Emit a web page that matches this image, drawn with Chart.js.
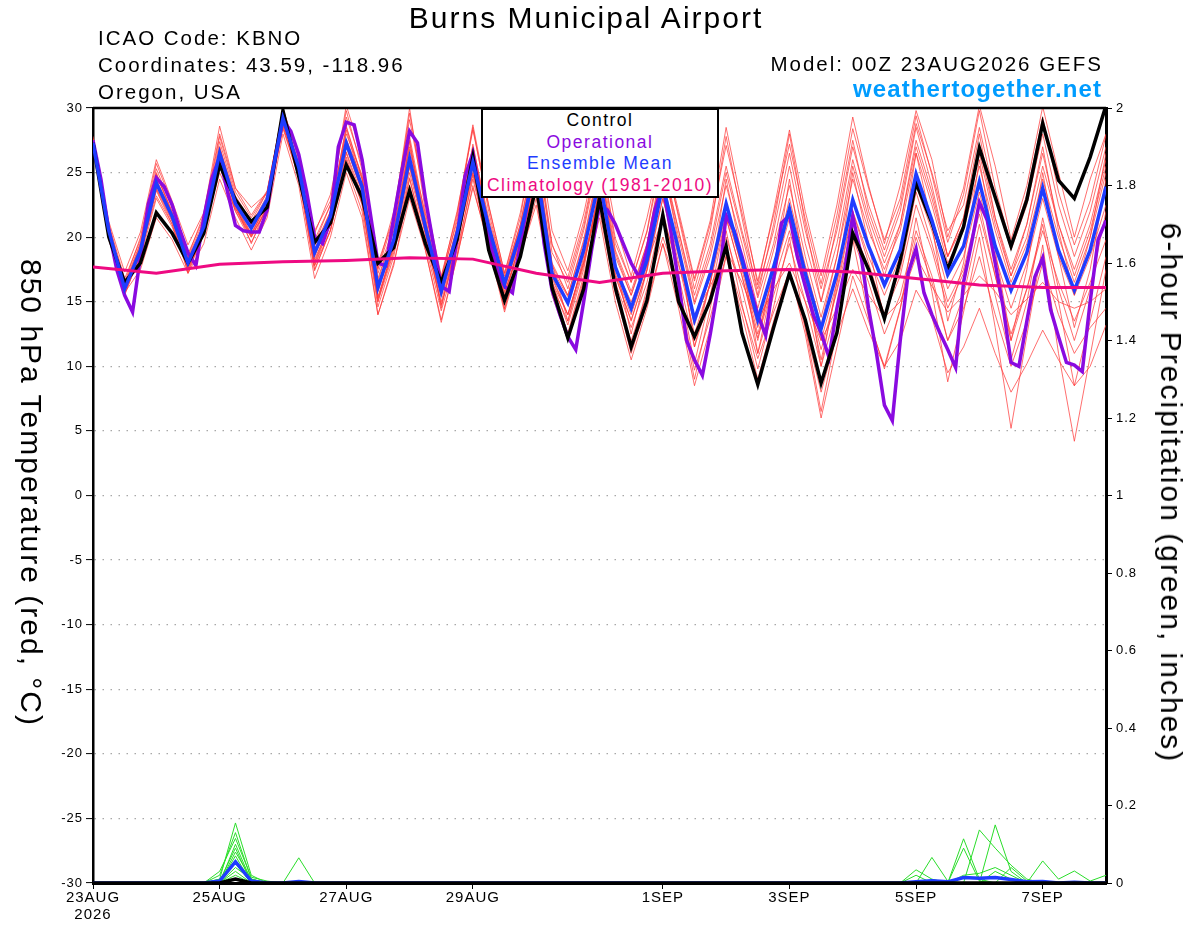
<!DOCTYPE html>
<html>
<head>
<meta charset="utf-8">
<script src="https://cdn.jsdelivr.net/npm/chart.js@4.4.1/dist/chart.umd.min.js"></script>
<style>
  body { margin: 0; background: #fff; }
  #wrap { position: relative; width: 1200px; height: 927px; font-family: "Liberation Sans", Arial, sans-serif; overflow: hidden; }
  #c { position: absolute; left: 0; top: 0; }
  .t { position: absolute; white-space: nowrap; line-height: 1; color: #000; z-index: 2; }
  #title { font-size: 30px; letter-spacing: 2px; top: 2.6px; left: 586px; transform: translateX(-50%); }
  .info { font-size: 20.5px; letter-spacing: 2px; left: 98px; }
  #model { font-size: 20.5px; letter-spacing: 2px; right: 97px; top: 53.6px; }
  #site { font-size: 24px; font-weight: bold; letter-spacing: 1.1px; right: 98px; top: 77px; color: #009cff; }
  #legend { position: absolute; left: 481px; top: 108px; width: 238px; height: 90px; box-sizing: border-box;
            border: 2px solid #000; background: #fff; z-index: 2; text-align: center; }
  #legend div { font-size: 17.5px; letter-spacing: 1.5px; line-height: 21.7px; height: 21.7px; white-space: nowrap; }
  .ytitle { position: absolute; white-space: nowrap; line-height: 1; font-size: 30px; letter-spacing: 2px; z-index: 2;
            transform: translate(-50%, -50%) rotate(90deg); }
</style>
</head>
<body>
<div id="wrap">
  <canvas id="c" width="1200" height="927"></canvas>
  <div class="t" id="title">Burns Municipal Airport</div>
  <div class="t info" style="top:28.3px">ICAO Code: KBNO</div>
  <div class="t info" style="top:55px">Coordinates: 43.59, -118.96</div>
  <div class="t info" style="top:81.6px">Oregon, USA</div>
  <div class="t" id="model">Model: 00Z 23AUG2026 GEFS</div>
  <div class="t" id="site">weathertogether.net</div>
  <div id="legend">
    <div style="color:#000">Control</div>
    <div style="color:#8a0ae0">Operational</div>
    <div style="color:#1f3cff">Ensemble Mean</div>
    <div style="color:#ee0a82">Climatology (1981-2010)</div>
  </div>
  <div class="ytitle" style="left:31px; top:493px">850 hPa Temperature (red, °C)</div>
  <div class="ytitle" style="left:1171px; top:493px">6-hour Precipitation (green, inches)</div>
</div>
<script>
// ---------- time axis (forecast hours) ----------
const hours = [0,6,12,18,24,30,36,42,48,54,60,66,72,78,84,90,96,102,108,114,120,126,132,138,144,150,156,162,168,174,180,186,192,198,204,210,216,222,228,234,240,246,252,258,264,270,276,282,288,294,300,306,312,318,324,330,336,342,348,354,360,366,372,378,384];
const tickHours = [0,48,96,144,216,264,312,360];
const tickLabels = [['23AUG','2026'],'25AUG','27AUG','29AUG','1SEP','3SEP','5SEP','7SEP'];

// ---------- 850 hPa temperature (°C) ----------
const controlTemp = [27.3,20.0,16.5,18.0, 21.9,20.3,18.0,20.3, 25.6,22.9,21.2,22.3, 29.8,24.7,19.6,21.1, 25.6,23.1,18.0,19.2, 23.6,19.5,16.5,19.8, 26.2,19.0,15.1,18.5, 24.0,16.1,12.2,16.0, 23.0,16.1,11.5,15.1, 21.7,15.0,12.3,15.1, 19.3,12.6,8.6,13.0, 17.2,13.6,8.7,12.6, 20.3,17.5,13.7,18.2, 24.2,21.1,17.5,20.8, 26.9,23.1,19.3,22.9, 28.8,24.4,23.0,26.2, 30.2];
const meanTemp = [27.3,20.5,16.0,19.0, 24.2,21.6,18.0,20.8, 26.5,22.6,20.7,22.9, 29.2,25.4,18.8,21.6, 27.3,23.9,16.1,19.8, 26.1,20.8,15.8,20.3, 25.8,20.8,16.4,20.3, 25.5,17.2,14.9,19.0, 24.5,17.7,14.5,18.2, 24.0,19.0,13.6,17.2, 22.6,18.2,13.6,17.7, 22.2,17.2,12.9,17.2, 22.9,19.3,16.3,19.0, 24.9,21.3,17.1,19.3, 24.3,19.3,15.9,18.8, 23.8,19.0,15.9,19.0, 23.9];

// Operational run (3-hourly)
const opHours = [0,3,6,9,12,15,18,21,24,27,30,33,36,39,42,45,48,51,54,57,60,63,66,69,72,75,78,81,84,87,90,93,96,99,102,105,108,111,114,117,120,123,126,129,132,135,138,141,144,147,150,153,156,159,162,165,168,171,174,177,180,183,186,189,192,195,198,201,204,207,210,213,216,219,222,225,228,231,234,237,240,243,246,249,252,255,258,261,264,267,270,273,276,279,282,285,288,291,294,297,300,303,306,309,312,315,318,321,324,327,330,333,336,339,342,345,348,351,354,357,360,363,366,369,372,375,378,381,384];
const opTemp = [27.5,24.5,20.5,17.5,15.5,14.2,18.5,22.6,24.6,23.9,22.5,20.5,18.8,17.8,21.5,24.5,26.2,23.5,20.9,20.5,20.4,20.4,22.1,26.0,29.1,28.2,26.4,23.5,20.0,19.5,21.3,27.0,28.9,28.7,26.0,22.0,18.0,17.8,21.5,25.0,28.2,27.3,23.0,19.5,16.2,15.8,20.0,24.7,26.5,23.0,20.0,17.5,16.2,15.7,19.5,23.0,25.5,19.5,15.9,14.0,12.3,11.3,15.0,19.0,22.5,22.1,21.0,19.5,18.0,16.9,19.0,22.1,24.0,20.5,16.5,12.0,10.5,9.3,12.5,16.2,21.7,20.5,18.5,16.2,14.0,12.4,16.7,21.1,21.7,18.5,16.2,14.0,12.6,10.7,14.5,17.5,21.6,18.8,14.5,11.0,7.0,5.8,12.0,17.2,19.1,15.7,14.0,12.6,11.3,9.9,16.5,19.5,22.7,21.3,18.0,14.6,10.3,10.0,13.5,16.9,18.4,14.4,12.3,10.3,10.1,9.6,15.0,19.8,21.3];

// Climatology (daily)
const climHours = [0,24,48,72,96,120,144,168,192,216,240,264,288,312,336,360,384];
const climTemp = [17.7,17.2,17.9,18.1,18.2,18.4,18.3,17.2,16.5,17.2,17.4,17.5,17.3,16.8,16.3,16.1,16.1];

// Ensemble members
const mem01 = [27.6,20.9,16.5,20.0, 25.7,22.6,18.5,21.8, 28.0,23.8,21.7,23.6, 29.7,26.4,20.3,23.3, 29.3,25.6,17.6,22.0, 29.1,22.8,16.8,22.0, 28.3,22.4,17.2,21.9, 28.0,19.4,16.9,21.2, 27.0,19.9,16.5,20.4, 26.5,21.7,16.6,21.0, 27.1,21.9,16.6,21.7, 27.2,21.4,16.4,21.7, 28.4,23.8,19.8,23.0, 29.4,24.8,19.6,23.3, 29.8,23.8,19.4,23.3, 29.3,23.5,19.4,22.8, 27.9];
const mem02 = [27.2,20.0,15.6,18.6, 23.6,21.0,17.5,20.2, 25.6,22.0,19.6,22.0, 28.6,24.6,17.8,20.5, 26.2,22.6,14.6,18.5, 24.6,19.4,14.3,18.6, 24.8,19.5,14.4,18.8, 23.5,16.0,12.4,16.7, 22.0,15.8,11.0,14.9, 19.5,15.8,9.7,13.8, 18.6,14.6,10.6,14.2, 17.3,13.0,8.0,12.5, 16.0,12.7,10.0,12.0, 15.9,13.8,9.5,11.5, 14.5,11.0,8.0,10.2, 12.8,10.5,8.5,10.0, 13.2];
const mem03 = [27.5,20.3,16.2,19.2, 24.8,21.9,18.3,20.9, 26.2,22.3,20.2,22.6, 28.8,24.9,18.1,21.2, 27.6,24.5,15.4,19.2, 27.4,20.2,14.7,19.3, 26.8,20.6,15.5,19.6, 24.5,16.2,13.5,17.8, 23.6,15.6,12.0,15.6, 21.5,15.5,9.0,14.5, 20.5,14.8,9.8,14.6, 20.0,13.0,6.5,12.8, 19.8,13.8,9.8,14.4, 21.5,15.8,8.8,14.2, 20.0,13.0,5.2,12.4, 19.4,11.0,4.2,10.8, 17.5];
const mem04 = [27.4,21.0,16.8,19.8, 25.3,22.3,18.7,21.5, 27.8,23.5,21.5,23.5, 29.9,26.2,19.8,22.5, 29.8,25.2,17.5,21.4, 29.6,23.0,17.0,21.8, 28.7,22.5,17.2,21.5, 28.8,20.5,17.4,21.8, 27.5,21.0,17.0,21.5, 27.0,22.0,16.8,21.3, 28.5,22.5,16.3,22.0, 28.3,22.0,17.0,22.5, 29.3,24.0,19.5,24.0, 29.8,26.0,20.0,23.8, 30.2,25.5,19.8,24.0, 30.1,25.0,20.0,24.5, 28.0];
const mem05 = [27.0,20.2,15.8,18.7, 23.7,21.2,17.6,20.4, 26.0,22.2,20.0,22.4, 28.9,25.0,18.3,21.0, 26.6,23.2,15.3,19.3, 25.4,20.3,15.0,19.6, 25.0,20.2,15.7,19.5, 24.8,17.0,14.0,18.2, 23.6,17.0,13.6,17.4, 23.0,18.0,12.5,16.5, 21.5,17.0,12.2,16.5, 20.5,16.0,11.3,15.8, 21.0,17.5,14.0,17.0, 22.5,19.0,14.5,17.2, 21.8,17.0,12.5,16.0, 20.5,16.5,13.5,16.5, 19.8];
const mem06 = [27.3,20.6,16.3,19.3, 24.0,21.4,17.8,20.5, 26.8,22.8,20.6,22.5, 28.4,24.6,17.4,20.6, 25.5,22.0,14.0,17.8, 24.0,19.0,13.6,18.4, 24.0,19.2,14.2,18.6, 22.5,16.0,12.6,17.0, 22.5,16.0,11.5,16.0, 20.0,16.5,10.2,15.5, 21.5,17.0,12.0,17.5, 23.0,17.8,13.2,18.5, 25.5,21.0,17.0,21.0, 27.5,23.5,18.5,21.5, 27.0,21.5,17.5,21.0, 26.5,21.0,17.0,20.5, 25.5];
const mem07 = [27.8,21.2,17.3,20.4, 26.0,22.8,19.4,21.9, 28.6,23.8,22.3,23.4, 30.0,26.0,20.5,22.8, 30.2,26.3,18.0,21.5, 30.0,22.0,16.5,21.5, 28.5,22.0,16.8,21.0, 27.0,19.5,16.0,20.5, 26.5,19.0,15.8,19.5, 25.5,20.5,15.0,19.0, 25.0,20.2,15.3,19.5, 25.5,19.5,15.0,19.5, 26.0,21.5,18.0,21.0, 27.0,23.0,18.5,21.0, 26.5,21.0,17.0,20.0, 25.5,21.0,17.5,21.0, 26.0];
const mem08 = [27.1,20.4,16.1,18.8, 23.2,21.0,17.3,20.5, 25.0,22.2,20.1,22.2, 29.0,25.2,18.5,21.5, 27.0,23.5,16.0,19.6, 25.5,20.5,15.5,20.0, 25.4,20.0,16.0,20.0, 24.0,17.5,15.4,18.6, 22.5,17.6,15.0,18.0, 21.5,17.8,14.0,16.2, 19.0,16.5,13.5,16.0, 18.0,15.0,12.0,14.5, 17.5,15.5,13.8,15.0, 18.5,16.2,14.2,15.5, 17.0,15.8,14.0,15.2, 16.5,15.0,14.5,15.0, 16.0];
const mem09 = [27.5,20.7,15.5,18.8, 25.0,21.8,17.2,20.3, 27.0,22.5,19.5,22.5, 29.5,25.5,17.8,21.0, 28.3,24.0,15.0,19.5, 27.5,21.0,14.5,19.8, 27.2,21.0,15.2,19.8, 26.8,18.0,13.5,18.5, 26.0,18.0,12.5,17.5, 25.8,19.5,11.5,16.5, 24.5,18.5,11.0,16.8, 24.5,17.0,10.0,16.5, 25.0,19.5,13.5,18.5, 26.5,21.0,13.5,18.0, 26.0,19.0,12.0,17.5, 25.0,18.5,13.0,17.5, 24.5];
const mem10 = [27.0,19.8,15.7,17.5, 21.5,19.8,17.2,19.5, 24.5,21.5,19.0,21.5, 28.0,24.0,16.8,20.0, 25.0,21.5,14.0,18.0, 23.0,19.0,13.4,18.5, 23.8,19.5,14.5,18.8, 24.5,16.5,13.2,17.5, 24.0,17.0,13.5,17.5, 24.5,19.0,12.0,16.5, 22.5,17.5,12.5,17.0, 22.0,16.5,10.5,16.0, 22.0,18.0,14.0,17.5, 23.5,19.5,15.0,17.5, 22.5,17.0,12.0,16.0, 21.0,15.0,8.5,13.5, 18.5];
const mem11 = [27.2,20.8,16.2,19.5, 24.5,21.8,18.3,21.0, 27.0,23.0,21.0,23.2, 29.4,25.8,19.5,22.5, 28.0,24.8,17.2,20.8, 27.0,21.8,16.8,21.2, 27.0,21.5,17.0,21.0, 27.5,18.8,16.5,20.8, 27.0,19.5,16.5,20.5, 27.2,21.5,16.0,20.5, 27.8,21.5,15.5,21.0, 28.0,21.0,15.0,21.0, 27.5,22.0,18.5,22.0, 28.5,24.0,18.5,21.5, 28.0,21.5,17.0,21.0, 27.0,20.5,15.5,20.0, 26.5];
const mem12 = [27.3,20.4,15.9,19.0, 24.0,21.5,17.8,20.6, 26.3,22.5,20.3,22.7, 29.0,25.0,18.0,21.0, 26.5,22.8,15.0,18.8, 24.5,19.8,14.8,19.0, 24.5,19.5,15.0,18.5, 23.0,15.5,12.0,16.5, 21.5,15.0,10.5,14.5, 19.5,14.5,8.5,13.0, 18.5,14.0,9.0,13.5, 17.5,12.5,6.0,11.5, 17.0,13.5,10.0,14.5, 20.0,16.5,12.0,15.5, 21.0,15.5,10.5,15.0, 21.5,16.0,12.0,16.0, 22.0];
const mem13 = [27.4,20.6,16.0,19.2, 24.4,21.7,18.1,21.0, 26.7,22.8,21.0,23.0, 29.3,25.6,19.3,22.0, 28.5,24.5,16.8,20.5, 26.8,21.3,16.3,20.8, 26.5,21.0,16.6,20.6, 25.8,17.8,15.5,19.6, 25.5,18.5,15.5,19.5, 26.0,20.5,15.5,19.5, 25.5,20.5,16.0,20.5, 26.5,20.5,16.0,20.5, 27.0,22.5,19.0,22.5, 28.8,25.0,20.5,22.5, 28.5,23.0,19.0,22.5, 28.0,22.5,18.5,22.0, 27.0];
const mem14 = [27.2,20.3,16.0,18.9, 23.8,21.3,17.9,20.6, 26.0,22.4,20.2,22.6, 29.1,25.2,18.6,21.3, 27.0,23.5,15.8,19.5, 25.7,20.5,15.5,19.8, 25.5,20.5,16.0,19.8, 25.0,16.8,14.0,18.0, 23.0,16.5,13.0,16.5, 22.0,17.0,11.5,15.5, 20.0,16.0,11.0,15.5, 19.5,15.0,10.0,14.5, 20.0,16.5,12.5,15.5, 20.5,17.0,12.0,14.5, 18.5,14.0,10.0,13.5, 18.0,14.0,11.0,13.0, 14.5];
const mem15 = [27.6,20.5,16.4,19.6, 24.9,22.0,18.4,21.3, 27.4,23.2,21.2,23.5, 29.6,25.6,19.0,22.0, 28.6,24.6,16.6,20.5, 27.8,21.5,16.0,20.8, 26.8,21.2,16.7,20.8, 26.5,18.0,15.5,19.8, 25.8,18.8,15.5,19.0, 25.5,20.0,14.8,18.5, 24.0,19.5,14.5,19.0, 24.0,18.5,13.8,18.5, 24.5,20.5,17.5,20.5, 26.5,22.5,18.0,20.5, 25.5,20.5,16.5,19.5, 24.5,20.0,16.5,20.0, 25.0];
const mem16 = [27.1,20.1,15.8,18.4, 23.0,20.8,17.6,20.2, 25.5,22.0,20.0,22.2, 28.6,24.8,17.5,20.5, 26.0,22.5,15.2,19.0, 25.0,20.2,15.4,19.6, 25.0,20.0,15.8,19.0, 24.2,16.5,14.0,18.0, 23.5,17.2,14.0,17.8, 23.0,18.5,13.2,17.0, 21.8,17.8,13.0,17.0, 21.5,16.8,12.0,16.5, 22.0,18.5,15.5,18.5, 24.0,20.5,16.0,18.5, 23.5,18.5,14.5,18.0, 23.0,18.5,15.5,18.5, 22.5];

// ---------- 6-hour precipitation (inches) ----------
const pcp01 = [0,0,0,0,0,0,0,0,0.01,0.155,0.02,0,0,0,0,0, 0,0,0,0,0,0,0,0,0,0,0,0,0,0,0,0, 0,0,0,0,0,0,0,0,0,0,0,0,0,0,0,0, 0,0,0,0,0,0,0,0,0,0.15,0.03,0,0,0,0,0, 0];
const pcp02 = [0,0,0,0,0,0,0,0,0.02,0.13,0.01,0,0,0,0,0, 0,0,0,0,0,0,0,0,0,0,0,0,0,0,0,0, 0,0,0,0,0,0,0,0,0,0,0,0,0,0,0,0, 0,0,0,0,0,0,0,0,0.137,0.09,0.046,0.01,0,0,0,0, 0];
const pcp03 = [0,0,0,0,0,0,0,0,0.03,0.115,0.015,0.005,0,0,0,0, 0,0,0,0,0,0,0,0,0,0,0,0,0,0,0,0, 0,0,0,0,0,0,0,0,0,0,0,0,0,0,0,0, 0,0,0,0,0,0,0,0.114,0.01,0,0,0,0,0,0,0, 0];
const pcp04 = [0,0,0,0,0,0,0,0,0,0.10,0.005,0,0,0,0,0, 0,0,0,0,0,0,0,0,0,0,0,0,0,0,0,0, 0,0,0,0,0,0,0,0,0,0,0,0,0,0,0,0, 0,0,0,0,0.034,0.01,0,0,0,0,0,0,0,0,0,0, 0];
const pcp05 = [0,0,0,0,0,0,0,0,0.005,0.09,0,0,0,0,0,0, 0,0,0,0,0,0,0,0,0,0,0,0,0,0,0,0, 0,0,0,0,0,0,0,0,0,0,0,0,0,0,0,0, 0,0,0,0,0,0.066,0.005,0,0,0,0,0,0,0,0,0, 0];
const pcp06 = [0,0,0,0,0,0,0,0,0,0.08,0.01,0,0,0,0,0, 0,0,0,0,0,0,0,0,0,0,0,0,0,0,0,0, 0,0,0,0,0,0,0,0,0,0,0,0,0,0,0,0, 0,0,0,0,0,0,0,0.02,0.025,0.04,0.02,0,0,0,0,0, 0];
const pcp07 = [0,0,0,0,0,0,0,0,0,0.07,0,0,0,0,0,0, 0,0,0,0,0,0,0,0,0,0,0,0,0,0,0,0, 0,0,0,0,0,0,0,0,0,0,0,0,0,0,0,0, 0,0,0,0,0,0,0,0,0,0,0,0,0.057,0.01,0.031,0.005, 0.02];
const pcp08 = [0,0,0,0,0,0,0,0,0.01,0.05,0,0,0,0,0,0, 0,0,0,0,0,0,0,0,0,0,0,0,0,0,0,0, 0,0,0,0,0,0,0,0,0,0,0,0,0,0,0,0, 0,0,0,0,0,0,0,0.09,0.005,0,0,0,0,0,0,0, 0];
const pcp09 = [0,0,0,0,0,0,0,0,0,0.03,0,0,0,0,0,0, 0,0,0,0,0,0,0,0,0,0,0,0,0,0,0,0, 0,0,0,0,0,0,0,0,0,0,0,0,0,0,0,0, 0,0,0,0,0,0,0,0,0,0.03,0.01,0,0,0,0,0, 0];
const pcp10 = [0,0,0,0,0,0,0,0,0,0.02,0,0,0,0.065,0,0, 0,0,0,0,0,0,0,0,0,0,0,0,0,0,0,0, 0,0,0,0,0,0,0,0,0,0,0,0,0,0,0,0, 0,0,0,0,0.02,0,0,0,0,0,0,0,0,0,0,0, 0];
const pcp11 = [0,0,0,0,0,0,0,0,0,0.04,0.01,0,0,0,0,0, 0,0,0,0,0,0,0,0,0,0,0,0,0,0,0,0, 0,0,0,0,0,0,0,0,0,0,0,0,0,0,0,0, 0,0,0,0,0,0,0,0,0,0,0.04,0.005,0,0,0,0, 0];
const pcpMean = [0,0,0,0,0,0,0,0,0.005,0.055,0.005,0,0,0.004,0,0, 0,0,0,0,0,0,0,0,0,0,0,0,0,0,0,0, 0,0,0,0,0,0,0,0,0,0,0,0,0,0,0,0, 0,0,0,0,0.003,0.006,0.003,0.014,0.012,0.014,0.009,0.003,0.004,0,0.002,0, 0];
const pcpControl = [0,0,0,0,0,0,0,0,0,0.01,0,0,0,0,0,0, 0,0,0,0,0,0,0,0,0,0,0,0,0,0,0,0, 0,0,0,0,0,0,0,0,0,0,0,0,0,0,0,0, 0,0,0,0,0,0,0,0,0,0,0,0,0,0,0,0, 0];

// ---------- build datasets ----------
const FONT = '"Liberation Sans", Arial, sans-serif';
Chart.defaults.font.family = FONT;
const pts = (xs, ys) => xs.map((x, i) => ({ x: x, y: ys[i] }));
const members = [mem01, mem02, mem03, mem04, mem05, mem06, mem07, mem08, mem09, mem10, mem11, mem12, mem13, mem14, mem15, mem16];
const pcpMembers = [pcp01, pcp02, pcp03, pcp04, pcp05, pcp06, pcp07, pcp08, pcp09, pcp10, pcp11];

const datasets = [];
members.forEach(m => datasets.push({ data: pts(hours, m), borderColor: 'rgba(255,55,55,0.72)', borderWidth: 1, yAxisID: 'y', order: 20 }));
pcpMembers.forEach(p => datasets.push({ data: pts(hours, p), borderColor: '#2add2a', borderWidth: 1, yAxisID: 'y2', order: 15 }));
datasets.push({ data: pts(hours, pcpMean), borderColor: '#1f3cff', borderWidth: 3.5, yAxisID: 'y2', order: 12 });
datasets.push({ data: pts(hours, pcpControl), borderColor: '#000', borderWidth: 3.5, yAxisID: 'y2', order: 11 });
datasets.push({ data: pts(opHours, opTemp), borderColor: '#8a0ae0', borderWidth: 3.5, yAxisID: 'y', order: 4 });
datasets.push({ data: pts(hours, controlTemp), borderColor: '#000', borderWidth: 3.5, yAxisID: 'y', order: 3 });
datasets.push({ data: pts(hours, meanTemp), borderColor: '#1f3cff', borderWidth: 3.5, yAxisID: 'y', order: 2 });
datasets.push({ data: pts(climHours, climTemp), borderColor: '#ee0a82', borderWidth: 3, yAxisID: 'y', order: 1 });

const framePlugin = {
  id: 'frame',
  beforeDraw(chart) { try { chart.ctx.letterSpacing = '1px'; } catch (e) {} },
  afterDraw(chart) {
    const { ctx, chartArea: a } = chart;
    ctx.save();
    ctx.strokeStyle = '#000';
    ctx.lineWidth = 2.5;
    ctx.beginPath();
    ctx.moveTo(a.left, a.top);
    ctx.lineTo(a.right, a.top);
    ctx.stroke();
    ctx.restore();
  }
};

new Chart(document.getElementById('c'), {
  type: 'line',
  data: { datasets: datasets },
  plugins: [framePlugin],
  options: {
    responsive: false,
    animation: false,
    devicePixelRatio: 1,
    layout: { padding: { top: 108, left: 0, right: 0, bottom: 0 } },
    elements: {
      point: { radius: 0, hoverRadius: 0 },
      line: { tension: 0, fill: false, borderJoinStyle: 'miter', borderCapStyle: 'butt' }
    },
    plugins: { legend: { display: false }, tooltip: { enabled: false }, title: { display: false } },
    scales: {
      x: {
        type: 'linear', min: 0, max: 384,
        afterBuildTicks(s) { s.ticks = tickHours.map(v => ({ value: v })); },
        afterFit(s) { s.height = 44; },
        ticks: {
          autoSkip: false, maxRotation: 0, minRotation: 0, color: '#000', padding: 1,
          font: { size: 15, lineHeight: 1.1 },
          callback: (v, i) => tickLabels[i]
        },
        grid: { drawOnChartArea: false, drawTicks: true, tickLength: 6, tickColor: '#000', tickWidth: 1 },
        border: { display: true, color: '#000', width: 3 }
      },
      y: {
        position: 'left', min: -30, max: 30,
        afterFit(s) { s.width = 93; },
        ticks: { stepSize: 5, color: '#000', padding: 3, font: { size: 13 } },
        grid: { color: '#a8a8a8', lineWidth: 1.2, drawTicks: true, tickLength: 7, tickColor: '#000', tickWidth: 1, tickBorderDash: [] },
        border: { display: true, color: '#000', width: 2.5, dash: [1.5, 6.5] }
      },
      y2: {
        position: 'right', min: 0, max: 2,
        afterFit(s) { s.width = 94; },
        ticks: { stepSize: 0.2, color: '#000', padding: 4, font: { size: 13 }, callback: v => String(+v.toFixed(1)) },
        grid: { drawOnChartArea: false, drawTicks: true, tickLength: 6, tickColor: '#000', tickWidth: 1 },
        border: { display: true, color: '#000', width: 3 }
      }
    }
  }
});
</script>
</body>
</html>
